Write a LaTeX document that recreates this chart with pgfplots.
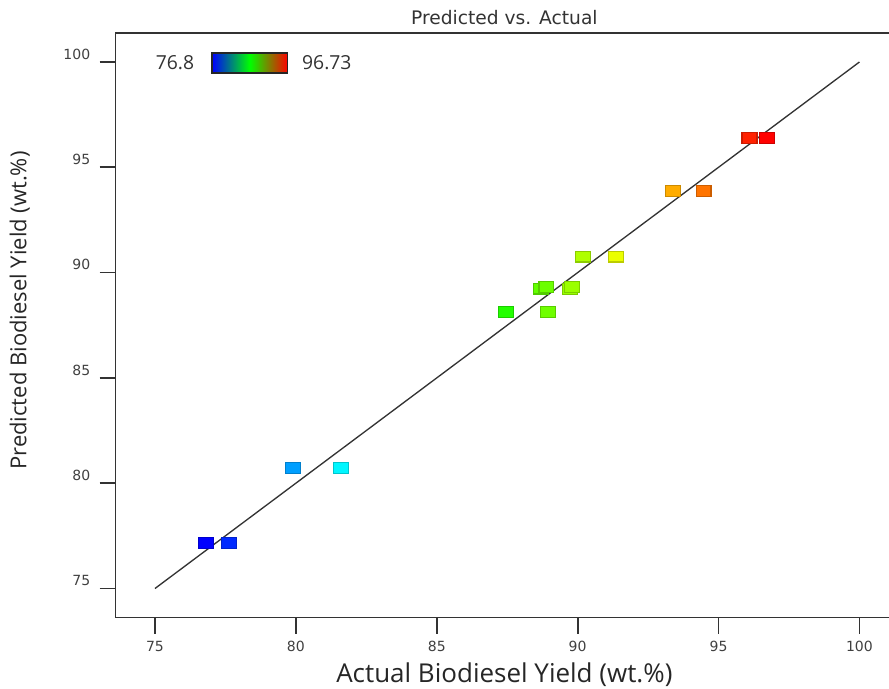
\documentclass[border=0pt]{standalone}
\usepackage{pgfplots}
\pgfplotsset{compat=1.18}
\usepackage{fontspec}
\setmainfont{Open Sans}
\newfontfamily\dejavu{DejaVu Sans}

\pgfplotstableread{
act pred
76.80 77.17
77.62 77.17
79.90 80.72
81.60 80.72
87.45 88.14
88.94 88.14
88.71 89.24
88.89 89.33
89.72 89.22
89.80 89.31
90.19 90.76
91.37 90.76
93.38 93.88
94.47 93.88
96.10 96.38
96.73 96.38
}\yielddata

\begin{document}
\begin{tikzpicture}
\begin{axis}[
    scale only axis,
    width=580.5pt, height=438.75pt,
    xmin=73.6, xmax=101.05,
    ymin=73.62, ymax=101.38,
    xtick={75,80,...,100}, ytick={75,80,...,100},
    tick pos=left,
    tick align=outside,
    major tick length=12pt,
    tick style={line width=1.3pt, black!80},
    axis line style={draw=none},
    /pgf/number format/assume math mode=true,
    ticklabel style={font=\dejavu\fontsize{10.5}{12}\selectfont, text=black!75},
    yticklabel style={yshift=6pt, xshift=-3.5pt},
    xticklabel style={yshift=-2pt},
    clip=false,
    colormap={rainbow}{rgb255=(0,0,255) rgb255=(0,255,255) rgb255=(0,255,0) rgb255=(255,255,0) rgb255=(255,0,0)},
    title={Predicted vs. Actual},
    title style={at={(axis cs:87.4,101.72)}, anchor=center, font=\dejavu\fontsize{14}{16}\selectfont, text=black!80},
    xlabel={Actual Biodiesel Yield (wt.\%)},
    xlabel style={at={(axis cs:87.4,70.92)}, anchor=center, font=\fontsize{19.5}{22}\selectfont, text=black!85},
    ylabel={Predicted Biodiesel Yield (wt.\%)},
    ylabel style={at={(axis cs:70.2,88.2)}, anchor=center, rotate=0, font=\fontsize{16.5}{19}\selectfont, text=black!85},
]
% frame without right side
\draw[line width=1.3pt, black!80] (rel axis cs:1,1) -- (rel axis cs:0,1) -- (rel axis cs:0,0) -- (rel axis cs:1,0);

\addplot[scatter, only marks, scatter src=x,
    mark=square*, mark size=4.1pt,
    mark options={xscale=1.36, draw=black!85, line width=0.9pt}]
    table[x=act, y=pred] {\yielddata};

\addplot[black!80, line width=1pt] coordinates {(75,75) (100,100)};

% colour key
\shade[left color=blue, right color=red, middle color=green]
    (axis cs:77.02,99.48) rectangle (axis cs:79.71,100.43);
\draw[black!85, line width=1pt] (axis cs:77.02,99.48) rectangle (axis cs:79.71,100.43);
\node[font=\fontsize{14.5}{16}\selectfont, text=black!80] at (axis cs:75.71,99.98) {76.8};
\node[font=\fontsize{14.5}{16}\selectfont, text=black!80] at (axis cs:81.1,99.98) {96.73};

\coordinate (bbsw) at (axis cs:69.50,70.26);
\coordinate (bbne) at (axis cs:101.05,102.945);
\end{axis}
\pgfresetboundingbox
\path[use as bounding box] (bbsw) rectangle (bbne);
\end{tikzpicture}
\end{document}
